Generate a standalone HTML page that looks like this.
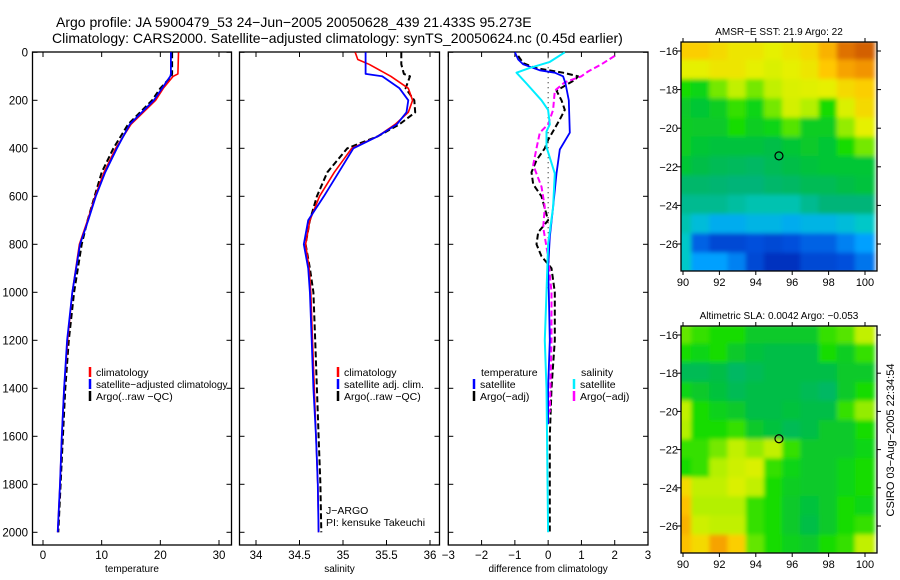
<!DOCTYPE html>
<html><head><meta charset="utf-8">
<style>
body{margin:0;background:#fff;}
svg{display:block;font-family:"Liberation Sans",sans-serif;}
</style></head>
<body>
<svg id="c" width="900" height="580" viewBox="0 0 900 580">
<text x="56" y="27" font-size="14">Argo profile: JA 5900479_53 24−Jun−2005 20050628_439 21.433S 95.273E</text>
<text x="52" y="43" font-size="14">Climatology: CARS2000. Satellite−adjusted climatology: synTS_20050624.nc (0.45d earlier)</text>
<text transform="translate(894,440) rotate(-90)" font-size="11" text-anchor="middle">CSIRO 03−Aug−2005 22:34:54</text>
</svg>
<script>
// ---------- data ----------
const depthTicks=[0,200,400,600,800,1000,1200,1400,1600,1800,2000];
const tDepth=[0,90,100,150,200,300,400,500,600,700,800,1000,1200,1400,1600,1800,2000];
const tClim=[23.1,23,22.2,20.5,19.2,15,12.4,10.4,8.9,7.6,6.2,5.0,4.2,3.6,3.2,2.9,2.5];
const tSat=[21.8,21.8,21.7,20.3,18.9,14.8,12.6,10.6,9.0,7.7,6.3,5.0,4.1,3.6,3.2,2.9,2.5];
const tArgo=[22.0,22.0,21.9,20.0,18.6,14.5,12.0,10.0,8.8,7.6,6.6,5.3,4.4,3.8,3.4,3.0,2.6];
const sDepth=[0,30,50,90,100,150,200,250,300,350,400,500,600,700,800,900,1000,1200,1400,1600,1800,2000];
const sClim=[35.14,35.17,35.3,35.5,35.55,35.75,35.8,35.75,35.6,35.4,35.1,34.9,34.73,34.62,34.57,34.61,34.63,34.65,34.67,34.69,34.71,34.72];
const sSat=[35.26,35.26,35.26,35.26,35.45,35.65,35.75,35.73,35.62,35.4,35.12,34.95,34.78,34.6,34.55,34.6,34.62,34.64,34.66,34.69,34.71,34.72];
const sArgo=[35.67,35.67,35.67,35.7,35.77,35.72,35.82,35.83,35.65,35.4,35.05,34.82,34.7,34.62,34.57,34.62,34.66,34.68,34.7,34.72,34.74,34.75];
const dDepth=[0,30,50,75,85,100,130,200,335,405,505,645,770,900,1000,1200,1400,1550];
const dTempSat=[-1.0,-0.9,-0.75,-0.25,0.2,0.45,0.52,0.62,0.65,0.35,0.25,0.15,0.05,0.0,0.02,0.05,0.0,0.0];
const dDepthC=[0,40,65,85,130,200,240,300,330,395,505,645,800,1000,1200,1400,2000];
const dSalSat=[0.5,0.05,-0.55,-0.95,-0.65,-0.2,0.0,0.05,-0.05,-0.05,0.2,0.15,0.0,-0.05,-0.1,-0.05,0.0];
const dDepthA=[15,45,65,85,100,115,160,200,240,280,365,400,450,500,550,600,650,700,750,800,850,900,1000,1200,1400,1600,2000];
const dTempArgo=[-0.9,-0.75,-0.4,0.45,0.9,0.8,0.25,0.4,0.5,0.35,0.0,-0.1,-0.35,-0.5,-0.45,-0.2,-0.1,0.0,-0.3,-0.35,-0.2,0.1,0.2,0.2,0.1,0.05,0.05];
const dDepthM=[15,50,80,100,125,160,240,300,335,400,470,560,645,730,850,1000,1200,1500];
const dSalArgo=[2.0,1.6,1.2,1.0,0.5,0.2,0.15,0.0,-0.25,-0.35,-0.45,-0.2,-0.1,-0.15,0.0,0.1,0.1,0.05];
const lonTicks=[90,92,94,96,98,100];
const latTicks=[-16,-18,-20,-22,-24,-26];
const mapLons=[90,91,92,93,94,95,96,97,98,99,100];
const mapLats=[-16,-17,-18,-19,-20,-21,-22,-23,-24,-25,-26,-27];
const sstGrid=[
[.84,.84,.82,.8,.8,.78,.8,.82,.88,.96,.98],
[.78,.78,.8,.8,.78,.76,.78,.8,.85,.9,.92],
[.6,.58,.66,.72,.66,.72,.76,.77,.78,.82,.84],
[.55,.54,.56,.62,.58,.66,.75,.7,.6,.76,.82],
[.56,.55,.55,.6,.56,.58,.64,.56,.56,.68,.78],
[.56,.54,.53,.53,.53,.52,.54,.55,.54,.6,.66],
[.54,.52,.5,.49,.48,.5,.52,.53,.54,.54,.54],
[.47,.47,.46,.45,.45,.47,.48,.5,.5,.52,.53],
[.42,.42,.42,.4,.38,.38,.38,.42,.45,.45,.45],
[.38,.32,.28,.28,.3,.3,.28,.3,.3,.32,.35],
[.35,.15,.1,.1,.12,.1,.12,.15,.15,.2,.25],
[.35,.25,.25,.2,.1,.05,.05,.1,.1,.12,.18]];
const slaGrid=[
[.65,.62,.6,.6,.55,.55,.55,.55,.62,.64,.72],
[.6,.58,.6,.55,.53,.52,.52,.52,.6,.56,.62],
[.5,.5,.52,.48,.5,.52,.52,.52,.52,.55,.55],
[.58,.55,.53,.5,.52,.52,.52,.5,.48,.55,.6],
[.72,.6,.57,.55,.52,.52,.53,.52,.52,.62,.68],
[.7,.6,.6,.62,.55,.53,.5,.52,.55,.55,.6],
[.62,.62,.66,.72,.68,.72,.62,.55,.55,.55,.58],
[.6,.62,.7,.74,.76,.62,.58,.55,.55,.58,.6],
[.82,.72,.72,.76,.72,.6,.56,.55,.55,.58,.6],
[.86,.7,.7,.7,.62,.6,.55,.53,.55,.6,.58],
[.88,.74,.72,.72,.62,.6,.55,.52,.55,.6,.62],
[.86,.82,.9,.84,.65,.6,.57,.55,.6,.62,.72]];
const argoLon=95.273, argoLat=-21.433;

// ---------- helpers ----------
const svg=document.getElementById('c');
const NS='http://www.w3.org/2000/svg';
function mk(tag,attrs,parent){const e=document.createElementNS(NS,tag);for(const k in attrs)e.setAttribute(k,attrs[k]);(parent||svg).appendChild(e);return e;}
const Y0=52.3,Y1=532.3;
const yD=d=>Y0+(d/2000)*(Y1-Y0);

function panel(name,left,right,bottom,xmin,xmax,x0px,x1px,xticks,xlabel,showY){
  const g=mk('g',{});
  
  
  const xs=v=>x0px+(v-xmin)/(xmax-xmin)*(x1px-x0px);
  const f=mk('rect',{x:left,y:52,width:right-left,height:bottom-52,fill:'none',stroke:'#000','stroke-width':1.3},g);
  
  
  depthTicks.forEach(d=>{
    mk('line',{x1:left,x2:left+5,y1:yD(d),y2:yD(d),stroke:'#000'},g);
    mk('line',{x1:right,x2:right-5,y1:yD(d),y2:yD(d),stroke:'#000'},g);
    if(showY){const t=mk('text',{x:28,y:yD(d)+4,'font-size':11.5,'text-anchor':'end'},g);t.textContent=d;
      
      }
  });
  xticks.forEach(v=>{
    mk('line',{x1:xs(v),x2:xs(v),y1:bottom,y2:bottom-5,stroke:'#000'},g);
    mk('line',{x1:xs(v),x2:xs(v),y1:52,y2:57,stroke:'#000'},g);
    const t=mk('text',{x:xs(v),y:bottom+14,'font-size':11.5,'text-anchor':'middle'},g);t.textContent=String(v).replace('-','−');
    
    
  });
  const xl=mk('text',{x:(left+right)/2,y:bottom+27,'font-size':10,'text-anchor':'middle'},g);xl.textContent=xlabel;
  
  
  return xs;
}
function line(xs,depths,vals,color,width,dash,name){
  const pts=depths.map((d,i)=>xs(vals[i]).toFixed(1)+','+yD(d).toFixed(1)).join(' ');
  const p=mk('polyline',{points:pts,fill:'none',stroke:color,'stroke-width':width,'stroke-dasharray':dash||'none','stroke-linejoin':'round'});
  
  
}
function legend(x,y,color,label,dash,name,size){
  const b=mk('line',{x1:x,x2:x,y1:y-9,y2:y+1,stroke:color,'stroke-width':2.5});
  
  
  const t=mk('text',{x:x+6,y:y,'font-size':size||10.5});t.textContent=label;
  
  
}
function txt(x,y,s,name,size){const t=mk('text',{x:x,y:y,'font-size':size||10.5});t.textContent=s;
  
  }

// ---------- panel 1: temperature ----------
const xt=panel('temperature-panel',32.5,231.5,545,0,30,43,219,[0,10,20,30],'temperature',true);
line(xt,tDepth,tArgo,'#000',2,'6,3','temp-argo-line');
line(xt,tDepth,tClim,'#f00',1.6,null,'temp-climatology-line');
line(xt,tDepth,tSat,'#00f',1.8,null,'temp-satellite-line');
legend(90,376,'#f00','climatology','','legend-climatology');
legend(90,388,'#00f','satellite−adjusted climatology','','legend-satellite-adjusted',10.1);
legend(90,400,'#000','Argo(..raw −QC)','','legend-argo');

// ---------- panel 2: salinity ----------
const xsal=panel('salinity-panel',239.5,439.5,545,34,36,256,430,[34,34.5,35,35.5,36],'salinity',false);
line(xsal,sDepth,sArgo,'#000',2,'6,3','sal-argo-line');
line(xsal,sDepth,sClim,'#f00',1.6,null,'sal-climatology-line');
line(xsal,sDepth,sSat,'#00f',1.8,null,'sal-satellite-line');
legend(338,376,'#f00','climatology','','legend-sal-climatology');
legend(338,388,'#00f','satellite adj. clim.','','legend-sal-satellite');
legend(338,400,'#000','Argo(..raw −QC)','','legend-sal-argo');
txt(326,514,'J−ARGO','j-argo-label');
txt(326,526,'PI: kensuke Takeuchi','pi-label');

// ---------- panel 3: difference ----------
const xd=panel('difference-panel',448.3,648,545,-3,3,448.3,648,[-3,-2,-1,0,1,2,3],'difference from climatology',false);
const z=mk('line',{x1:xd(0),x2:xd(0),y1:yD(0),y2:yD(1000),stroke:'#000','stroke-dasharray':'1,4'});


line(xd,dDepthA,dTempArgo,'#000',2,'6,3','diff-temp-argo-line');
line(xd,dDepthM,dSalArgo,'#f0f',2,'6,3','diff-sal-argo-line');
line(xd,dDepth,dTempSat,'#00f',1.8,null,'diff-temp-satellite-line');
line(xd,dDepthC,dSalSat,'#0ef',2,null,'diff-sal-satellite-line');
txt(481,376,'temperature','legend-temperature-heading');
legend(474,388,'#00f','satellite','','legend-diff-temp-satellite');
legend(474,400,'#000','Argo(−adj)','','legend-diff-temp-argo');
txt(581,376,'salinity','legend-salinity-heading');
legend(574,388,'#0ef','satellite','','legend-diff-sal-satellite');
legend(574,400,'#f0f','Argo(−adj)','','legend-diff-sal-argo');

// ---------- maps ----------
const stops=[[0,[0,30,170]],[.12,[0,80,220]],[.25,[0,160,255]],[.35,[0,200,200]],[.45,[0,180,120]],[.52,[0,190,70]],[.6,[20,220,0]],[.7,[180,240,0]],[.78,[230,240,0]],[.85,[255,200,0]],[.93,[240,140,0]],[1,[200,80,0]]];
function cmap(v){for(let i=1;i<stops.length;i++){if(v<=stops[i][0]){const a=stops[i-1],b=stops[i],t=(v-a[0])/(b[0]-a[0]);return 'rgb('+a[1].map((c,k)=>Math.round(c+(b[1][k]-c)*t)).join(',')+')';}}return 'rgb(200,80,0)';}
function map(name,top,bottom,grid,title){
  const L=681,R=877;
  const lx=v=>683+(v-90)*18.2;
  const ly=v=>top+9+(-16-v)/10*(bottom-top-36);
  const g=mk('g',{});
  
  
  const cid=name+'-clip';
  const cp=mk('clipPath',{id:cid},g);mk('rect',{x:L,y:top,width:R-L,height:bottom-top},cp);
  const fid=name+'-blur';
  const fl=mk('filter',{id:fid,x:'-10%',y:'-10%',width:'120%',height:'120%'},g);mk('feGaussianBlur',{stdDeviation:2},fl);
  const cg=mk('g',{'clip-path':'url(#'+cid+')'},g);
  const ig=mk('g',{filter:'url(#'+fid+')'},cg);
  const cw=lx(1)-lx(0), ch=ly(-17)-ly(-16);
  mapLats.forEach((la,r)=>mapLons.forEach((lo,c)=>{
    const cell=mk('rect',{x:lx(lo)-cw/2-1,y:ly(la)-ch/2-1,width:cw+2,height:ch+2,fill:cmap(grid[r][c])},ig);
    
    
  }));
  mk('rect',{x:L,y:top,width:R-L,height:bottom-top,fill:'none',stroke:'#000','stroke-width':1.3},g);
  latTicks.forEach(v=>{mk('line',{x1:L,x2:L-4,y1:ly(v),y2:ly(v),stroke:'#000'},g);mk('line',{x1:R,x2:R+4,y1:ly(v),y2:ly(v),stroke:'#000'},g);
    const t=mk('text',{x:L-3,y:ly(v)+4,'font-size':11,'text-anchor':'end'},g);t.textContent=String(v).replace('-','−');
    
    });
  lonTicks.forEach(v=>{mk('line',{x1:lx(v),x2:lx(v),y1:bottom,y2:bottom+4,stroke:'#000'},g);mk('line',{x1:lx(v),x2:lx(v),y1:top,y2:top-4,stroke:'#000'},g);
    const t=mk('text',{x:lx(v),y:bottom+15,'font-size':11,'text-anchor':'middle'},g);t.textContent=v;
    
    });
  const c=mk('circle',{cx:lx(argoLon),cy:ly(argoLat),r:4,fill:'none',stroke:'#000','stroke-width':1.2},g);
  
  
  const t=mk('text',{x:(L+R)/2,y:top-7,'font-size':10,'text-anchor':'middle'},g);t.textContent=title;
  
  
}
map('sst-map',42,271,sstGrid,'AMSR−E SST: 21.9 Argo: 22');
map('sla-map',326,553,slaGrid,'Altimetric SLA: 0.0042 Argo: −0.053');
</script>
</body></html>
